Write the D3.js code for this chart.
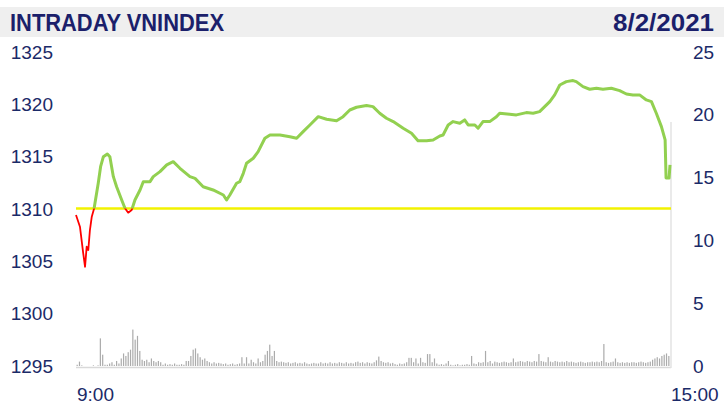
<!DOCTYPE html>
<html>
<head>
<meta charset="utf-8">
<script src="https://cdn.jsdelivr.net/npm/d3@7"></script>
<style>
  body { margin: 0; background: #fff; }
  .tick-text { font-family: "Liberation Sans", "Open Sans", sans-serif; font-size: 19px; fill: #1b2a68; }
</style>
</head>
<body>
<div class="chart"></div>
<script>
//chart data
var minutes = [0,1.7,3.1,3.9,4.6,5.3,6.0,6.8,7.8,9.6,
  10.6,11.8,13.5,14.6,16.1,17.5,19.7,21.1,22.5,24.0,
  25.4,27.6,29.0,31.9,33.3,36.2,39.1,41.9,44.8,49.1,
  51.3,54.8,59.1,63.5,64.9,66.3,69.2,70.6,72.1,73.5,
  76.4,78.5,81.4,83.6,87.9,92.2,95.1,97.9,100.8,104.4,
  108.0,112.3,115.1,118.0,120.9,125.2,128.0,130.9,133.8,136.7,
  141.0,144.6,147.4,151.1,153.9,156.8,158.2,160.4,162.5,165.4,
  167.5,169.0,171.9,173.3,175.4,178.3,181.2,182.6,186.9,189.8,
  194.1,197.0,199.8,202.0,204.2,206.3,208.5,211.3,214.2,215.6,
  218.5,221.4,224.3,227.1,230.7,234.3,237.2,240.0,242.9,245.8,
  248.0,250.1,252.3,253.9,254.3,255.6,256];

var prices = [1309.43,1308.31,1305.79,1304.48,1306.40,1306.08,1307.99,1309.26,1310.05,1312.49,
  1314.04,1315.00,1315.26,1315.00,1313.09,1312.13,1310.86,1310.07,1309.65,1309.90,
  1310.86,1311.82,1312.61,1312.61,1313.09,1313.57,1314.21,1314.52,1313.89,1313.09,
  1312.93,1312.13,1311.82,1311.34,1310.86,1311.34,1312.46,1312.61,1313.41,1314.37,
  1314.85,1315.48,1316.76,1317.07,1317.07,1316.91,1316.76,1317.39,1318.03,1318.82,
  1318.58,1318.44,1318.82,1319.46,1319.72,1319.88,1319.78,1319.15,1318.67,1318.35,
  1317.72,1317.24,1316.53,1316.53,1316.60,1316.98,1317.07,1318.03,1318.35,1318.19,
  1318.51,1318.03,1318.03,1317.72,1318.35,1318.35,1318.82,1319.15,1319.05,1318.99,
  1319.21,1319.15,1319.30,1319.78,1320.26,1320.90,1321.85,1322.17,1322.27,1322.17,
  1321.69,1321.44,1321.54,1321.44,1321.54,1321.31,1320.99,1320.90,1320.90,1320.42,
  1320.26,1319.15,1317.87,1316.60,1312.96,1312.96,1314.21];

// volume per minute (right axis)
var volumes = [0.1,0.35,0.05,0,0,0,0,0.05,0,0.05,2.2,0.9,0.1,0.1,0.2,0.3,
  0.1,0.4,0.2,0.6,1.0,0.8,1.1,1.3,2.9,2.1,2.4,1.2,0.5,0.4,0.5,0.3,
  0.6,0.4,0.3,0.4,0.3,0.1,0.2,0.1,0.15,0.1,0.2,0.1,0.1,0.15,0.1,0.4,
  0.4,0.8,1.3,1.4,1.0,0.7,0.5,0.6,0.4,0.3,0.2,0.3,0.2,0.25,0.2,0.15,
  0.2,0.1,0.15,0.2,0.1,0.15,0.2,0.7,0.2,0.7,0.2,0.5,0.3,0.2,0.6,0.3,
  0.4,0.9,1.2,1.7,0.8,1.2,0.4,0.3,0.35,0.3,0.25,0.3,0.2,0.25,0.3,0.2,
  0.25,0.2,0.3,0.2,0.15,0.2,0.25,0.2,0.2,0.3,0.2,0.25,0.2,0.3,0.2,0.25,
  0.2,0.3,0.25,0.2,0.3,0.2,0.25,0.2,0.3,0.35,0.25,0.3,0.2,0.3,0.25,0.2,
  0.3,0.45,0.75,0.4,0.3,0.25,0.3,0.2,0.25,0.15,0.1,0.2,0.15,0.2,0.3,0.65,
  0.65,0.3,0.6,0.2,0.65,0.3,0.25,0.95,0.95,0.3,0.6,0.2,0.1,0.15,0.1,0.2,
  0.4,0.1,0.05,0.1,0.15,0.05,0.1,0.1,0.15,0.1,0.8,0.2,0.15,0.3,0.25,0.3,
  1.2,0.3,0.4,0.2,0.35,0.3,0.25,0.3,0.35,0.3,0.25,0.3,0.6,0.3,0.35,0.4,
  0.35,0.3,0.4,0.35,0.3,0.4,0.35,0.95,0.4,0.35,0.3,0.7,0.35,0.3,0.4,0.35,
  0.3,0.35,0.3,0.4,0.3,0.35,0.3,0.25,0.3,0.35,0.3,0.25,0.3,0.3,0.35,0.3,
  0.35,0.3,0.4,1.75,0.3,0.25,0.3,0.35,0.6,0.3,0.25,0.3,0.25,0.3,0.25,0.3,
  0.3,0.25,0.3,0.35,0.3,0.25,0.3,0.35,0.5,0.6,0.7,0.6,0.8,0.9,1.0,0.8];

var refPrice = 1310.05;
var leftTicks = [1295, 1300, 1305, 1310, 1315, 1320, 1325];
var rightTicks = [0, 5, 10, 15, 20, 25];
var timeTicks = [0, 256];
var timeLabels = ["9:00", "15:00"];
var title = "INTRADAY VNINDEX";
var dateText = "8/2/2021";

//svg setup
var svgWidth = 724;
var svgHeight = 405;
var plot = {left: 76, right: 670, top: 52, bottom: 366};

var svg = d3.select('.chart').append('svg').attr('width', svgWidth).attr('height', svgHeight);

//scales
var xScale = d3.scaleLinear().domain([0, 256]).range([plot.left, plot.right]);
var yLeft = d3.scaleLinear().domain([1295, 1325]).range([plot.bottom, plot.top]);
var yRight = d3.scaleLinear().domain([0, 25]).range([plot.bottom, plot.top]);

//title band
svg.append('rect').attr('x', 0).attr('y', 7).attr('width', svgWidth).attr('height', 30).attr('fill', '#efefef');
svg.append('text').attr('x', 10).attr('y', 31)
  .attr('font-family', '"Liberation Sans Narrow", "Liberation Sans", sans-serif')
  .attr('font-weight', 'bold').attr('font-size', 24).attr('fill', '#1b1f6b')
  .attr('textLength', 214).attr('lengthAdjust', 'spacingAndGlyphs')
  .text(title);
svg.append('text').attr('x', 714).attr('y', 31).attr('text-anchor', 'end')
  .attr('font-family', '"Liberation Sans Narrow", "Liberation Sans", sans-serif')
  .attr('font-weight', 'bold').attr('font-size', 24).attr('fill', '#1b1f6b')
  .attr('textLength', 101).attr('lengthAdjust', 'spacingAndGlyphs')
  .text(dateText);

//axis tick labels
var leftAxis = d3.axisLeft(yLeft).tickValues(leftTicks).tickFormat(d3.format('d')).tickSize(0).tickPadding(0);
svg.append('g').attr('class', 'y-left').attr('transform', 'translate(53,0)').call(leftAxis)
  .call(function(g){ g.select('.domain').remove(); });

var rightAxis = d3.axisRight(yRight).tickValues(rightTicks).tickFormat(d3.format('d')).tickSize(0).tickPadding(0);
svg.append('g').attr('class', 'y-right').attr('transform', 'translate(693,0)').call(rightAxis)
  .call(function(g){ g.select('.domain').remove(); });

svg.selectAll('.y-left text, .y-right text').attr('class', 'tick-text');
svg.selectAll('.y-left, .y-right').attr('font-size', null).attr('font-family', null);

//time labels
svg.selectAll('.time-label').data(timeTicks).enter().append('text')
  .attr('class', 'tick-text time-label')
  .attr('x', function(d){ return xScale(d) + 1; })
  .attr('y', 401)
  .text(function(d, i){ return timeLabels[i]; });

//volume bars
svg.append('g').selectAll('rect').data(volumes).enter().append('rect')
  .attr('x', function(d, i){ return xScale(i + 0.5) - 0.6; })
  .attr('y', function(d){ return yRight(d); })
  .attr('width', 1.2)
  .attr('height', function(d){ return yRight(0) - yRight(d); })
  .attr('fill', '#ababab');

//axis lines
svg.append('line').attr('x1', plot.left).attr('x2', plot.right + 1).attr('y1', 367.5).attr('y2', 367.5)
  .attr('stroke', '#d9d9d9').attr('stroke-width', 1.5);
svg.append('line').attr('x1', 671).attr('x2', 671).attr('y1', 122).attr('y2', 368)
  .attr('stroke', '#e3e3e3').attr('stroke-width', 1.5);

//reference line
svg.append('line').attr('x1', plot.left).attr('x2', plot.right + 1)
  .attr('y1', yLeft(refPrice)).attr('y2', yLeft(refPrice))
  .attr('stroke', '#f2f200').attr('stroke-width', 2.5);

//clip above / below the reference
var defs = svg.append('defs');
defs.append('clipPath').attr('id', 'above').append('rect')
  .attr('x', 0).attr('y', 0).attr('width', svgWidth).attr('height', yLeft(refPrice));
defs.append('clipPath').attr('id', 'below').append('rect')
  .attr('x', 0).attr('y', yLeft(refPrice)).attr('width', svgWidth).attr('height', svgHeight);

var line = d3.line()
  .x(function(d, i){ return xScale(minutes[i]); })
  .y(function(d){ return yLeft(d); });

svg.append('path').datum(prices).attr('d', line).attr('fill', 'none')
  .attr('stroke', '#92d050').attr('stroke-width', 3).attr('stroke-linejoin', 'round')
  .attr('clip-path', 'url(#above)');
svg.append('path').datum(prices).attr('d', line).attr('fill', 'none')
  .attr('stroke', '#ff0000').attr('stroke-width', 1.8).attr('stroke-linejoin', 'round')
  .attr('clip-path', 'url(#below)');
</script>
</body>
</html>
